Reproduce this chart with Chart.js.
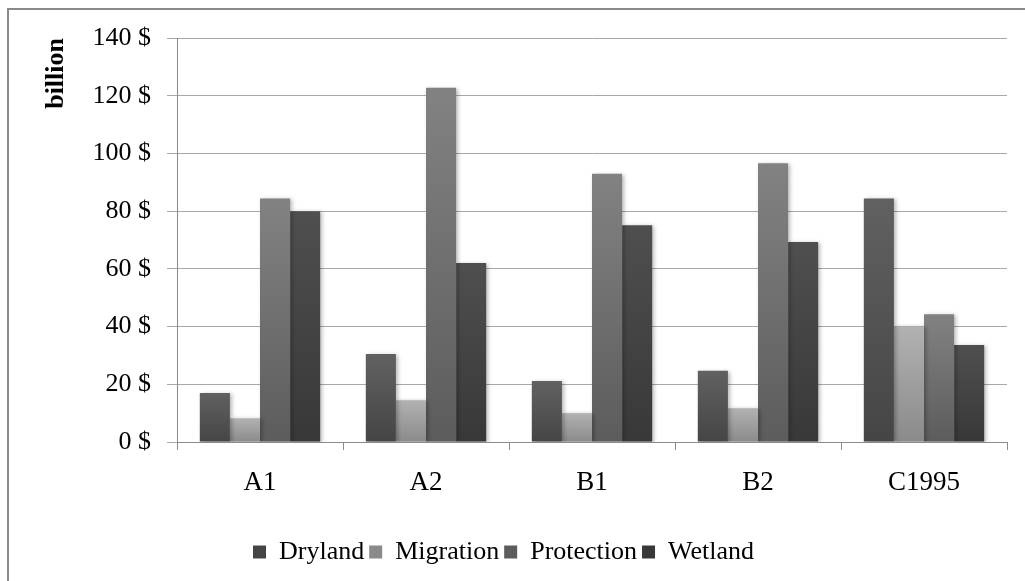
<!DOCTYPE html>
<html>
<head>
<meta charset="utf-8">
<script src="https://cdn.jsdelivr.net/npm/chart.js@4.4.1/dist/chart.umd.min.js"></script>
<style>
  html, body { margin: 0; padding: 0; overflow: hidden; background: #fff; }
  #frame { position: absolute; left: 7px; top: 8px; width: 1100px; height: 700px; border: 2px solid #8a8a8a; }
  #wrap { position: absolute; left: 0; top: 0; width: 1025px; height: 581px; }
</style>
</head>
<body>
<div id="frame"></div>
<div id="wrap"><canvas id="costChart"></canvas></div>
<script>
const scenarios = ['A1', 'A2', 'B1', 'B2', 'C1995'];
const seriesNames = ['Dryland', 'Migration', 'Protection', 'Wetland'];
const dryland    = [17.0, 30.5, 21.1, 24.7, 84.4];
const migration  = [8.2, 14.5, 10.0, 11.7, 40.1];
const protection = [84.4, 122.8, 93.0, 96.6, 44.3];
const wetland    = [80.0, 62.0, 75.1, 69.3, 33.6];
const yTicks = [0, 20, 40, 60, 80, 100, 120, 140];

// top / bottom shade of each series (Excel-style grey gradient)
const shades = [
  ['#616161', '#454545'],
  ['#b2b2b2', '#8a8a8a'],
  ['#828282', '#5c5c5c'],
  ['#4f4f4f', '#383838'],
];

const FONT = "'Liberation Serif', 'Times New Roman', serif";

function barFill(i) {
  return ctx => {
    const chart = ctx.chart;
    const y = chart.scales.y;
    if (!chart.chartArea || !y || ctx.parsed == null) return shades[i][1];
    const top = y.getPixelForValue(ctx.parsed.y);
    const base = y.getPixelForValue(0);
    if (!isFinite(top) || !isFinite(base) || top === base) return shades[i][1];
    const g = chart.ctx.createLinearGradient(0, top, 0, base);
    g.addColorStop(0, shades[i][0]);
    g.addColorStop(1, shades[i][1]);
    return g;
  };
}

const barShadow = {
  id: 'barShadow',
  beforeDatasetsDraw(chart) {
    const c = chart.ctx;
    c.save();
    c.shadowColor = 'rgba(0,0,0,0.28)';
    c.shadowBlur = 4;
    c.shadowOffsetX = 2;
    c.shadowOffsetY = 1;
  },
  afterDatasetsDraw(chart) {
    chart.ctx.restore();
  },
};

const values = [dryland, migration, protection, wetland];

new Chart(document.getElementById('costChart'), {
  type: 'bar',
  data: {
    labels: scenarios,
    datasets: seriesNames.map((name, i) => ({
      label: name,
      data: values[i],
      backgroundColor: barFill(i),
      borderWidth: 0,
      categoryPercentage: 0.725,
      barPercentage: 1.0,
    })),
  },
  options: {
    responsive: true,
    maintainAspectRatio: false,
    animation: false,
    layout: { padding: { top: 38, right: 18, bottom: 6, left: 0 } },
    plugins: {
      legend: {
        position: 'bottom',
        labels: {
          font: { family: FONT, size: 26 },
          color: '#000',
          boxWidth: 13,
          boxHeight: 13,
          padding: 5,
          generateLabels: chart => chart.data.datasets.map((ds, i) => ({
            text: ds.label,
            fillStyle: shades[i][1],
            strokeStyle: shades[i][1],
            lineWidth: 0,
            datasetIndex: i,
          })),
        },
      },
      tooltip: { enabled: false },
    },
    scales: {
      x: {
        grid: { display: true, drawOnChartArea: false, drawTicks: true, tickLength: 8, color: '#8a8a8a', offset: true },
        border: { color: '#8a8a8a' },
        ticks: { font: { family: FONT, size: 27 }, color: '#000', padding: 17 },
        afterFit: s => { s.height = 92; },
      },
      y: {
        min: 0,
        max: 140,
        afterBuildTicks: s => { s.ticks = yTicks.map(v => ({ value: v })); },
        grid: { color: '#a8a8a8', tickLength: 10 },
        border: { color: '#8a8a8a' },
        ticks: {
          font: { family: FONT, size: 26 },
          color: '#000',
          padding: 16,
          callback: v => v + ' $',
        },
        title: {
          display: true,
          text: 'billion',
          align: 'end',
          font: { family: FONT, size: 26, weight: 'bold' },
          color: '#000',
          padding: { top: 41, bottom: 0 },
        },
        afterFit: s => { s.width = 177; },
      },
    },
  },
  plugins: [barShadow],
});
</script>
</body>
</html>
